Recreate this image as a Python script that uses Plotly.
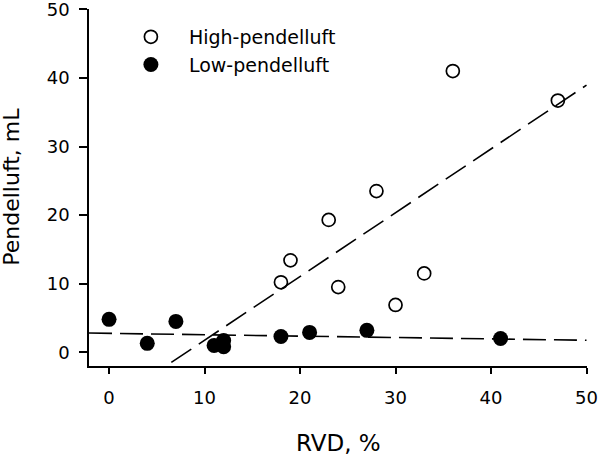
import numpy as np
import plotly.graph_objects as go

# Data
high_rvd = [18, 19, 23, 24, 28, 30, 33, 36, 47]
high_pend = [10.2, 13.4, 19.3, 9.5, 23.5, 6.9, 11.5, 41.0, 36.7]

low_rvd = [0, 4, 7, 11, 12, 12, 18, 21, 27, 41]
low_pend = [4.8, 1.3, 4.5, 1.0, 1.7, 0.8, 2.3, 2.9, 3.2, 2.0]

x_ticks = [0, 10, 20, 30, 40, 50]
y_ticks = [0, 10, 20, 30, 40, 50]
x_range = [-2.1, 50.05]
y_range = [-2, 50.05]
x_title = "RVD, %"
y_title = "Pendelluft, mL"

# Linear regression lines
hs, hi = np.polyfit(high_rvd, high_pend, 1)
ls, li = np.polyfit(low_rvd, low_pend, 1)
line_x = [x_range[0], 50]

FONT = "DejaVu Sans"

fig = go.Figure()
fig.add_trace(go.Scatter(
    x=line_x, y=[hs * v + hi for v in line_x], mode="lines",
    line=dict(color="black", width=1.6, dash="24px,9px"),
    showlegend=False, hoverinfo="skip"))
fig.add_trace(go.Scatter(
    x=line_x, y=[ls * v + li for v in line_x], mode="lines",
    line=dict(color="black", width=1.6, dash="23px,8px"),
    showlegend=False, hoverinfo="skip"))
fig.add_trace(go.Scatter(
    x=high_rvd, y=high_pend, mode="markers", name="High-pendelluft",
    marker=dict(symbol="circle-open", size=13, color="black", line=dict(width=1.7, color="black"))))
fig.add_trace(go.Scatter(
    x=low_rvd, y=low_pend, mode="markers", name="Low-pendelluft",
    marker=dict(symbol="circle", size=15, color="black")))

axis_common = dict(
    showgrid=False, zeroline=False, showline=True, linecolor="black", linewidth=1.5,
    ticks="outside", tickcolor="black", tickwidth=1.5,
    tickfont=dict(family=FONT, size=18, color="black"),
    mirror=False, automargin=False, ticklabeloverflow="allow",
)

fig.update_xaxes(range=x_range, tickvals=x_ticks, ticklen=6, ticklabelstandoff=9, **axis_common)
fig.update_yaxes(range=y_range, tickvals=y_ticks, ticklen=8, ticklabelstandoff=6, **axis_common)

fig.add_annotation(text=x_title, xref="paper", yref="paper", x=0.5, y=-0.215,
                   xanchor="center", yanchor="middle", showarrow=False,
                   font=dict(family=FONT, size=23, color="black"))
fig.add_annotation(text=y_title, xref="paper", yref="paper", x=-0.156, y=0.503,
                   xanchor="center", yanchor="middle", showarrow=False, textangle=-90,
                   font=dict(family=FONT, size=22, color="black"))

fig.update_layout(
    width=598, height=457,
    margin=dict(l=89, r=11, t=9, b=91),
    paper_bgcolor="white", plot_bgcolor="white",
    font=dict(family=FONT, color="black"),
    legend=dict(x=0.048, y=0.975, xanchor="left", yanchor="top",
                font=dict(family=FONT, size=19, color="black"),
                bgcolor="rgba(0,0,0,0)", itemwidth=66, tracegroupgap=0),
)

fig.write_html("out.html", config={"displayModeBar": False},
               post_script="document.body.style.margin='0';document.body.style.padding='0';")
